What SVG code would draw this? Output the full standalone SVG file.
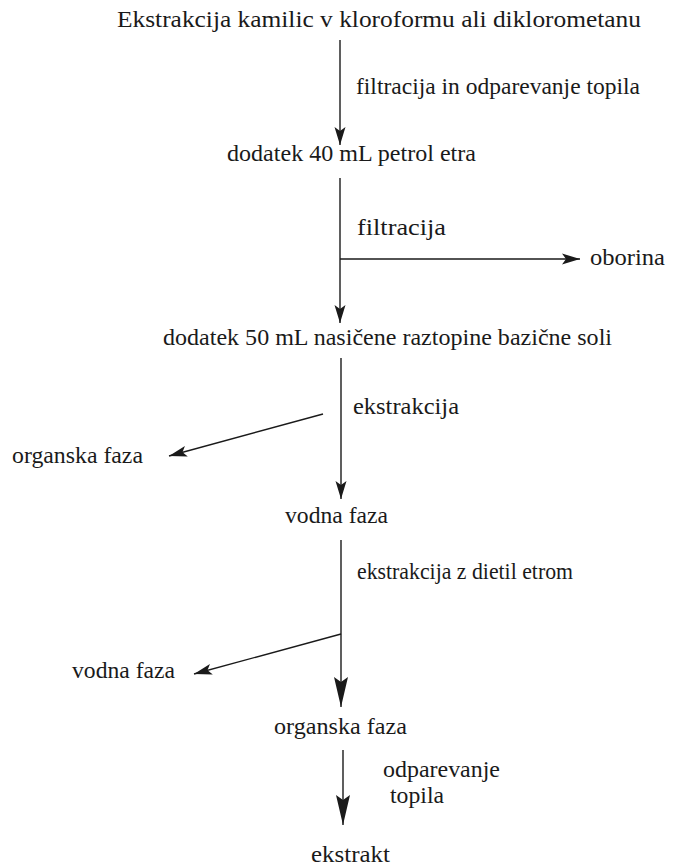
<svg xmlns="http://www.w3.org/2000/svg" width="691" height="866" viewBox="0 0 691 866">
<style>
text{font-family:"Liberation Serif","Times New Roman",Tinos,"Noto Serif","DejaVu Serif",FreeSerif,serif;font-size:23px;fill:#1a1a1a}
.c{stroke:#1a1a1a;stroke-width:1.4;fill:none}
</style>
<defs>
<marker id="as" markerUnits="userSpaceOnUse" markerWidth="20" markerHeight="14" refX="18" refY="6" orient="auto" viewBox="0 0 20 12">
<path d="M18,6 L0,0.5 L4,6 L0,11.5 Z" fill="#1a1a1a"/>
</marker>
<marker id="al" markerUnits="userSpaceOnUse" markerWidth="32" markerHeight="16" refX="30" refY="7.5" orient="auto" viewBox="0 0 32 15">
<path d="M30,7.5 L0,0.5 L5,7.5 L0,14.5 Z" fill="#1a1a1a"/>
</marker>
</defs>
<g id="connectors">
<line class="c" x1="340" y1="40" x2="340" y2="145" marker-end="url(#as)"/>
<line class="c" x1="340" y1="178" x2="340" y2="323" marker-end="url(#as)"/>
<line class="c" x1="340" y1="259" x2="580" y2="259" marker-end="url(#as)"/>
<line class="c" x1="341" y1="358" x2="341" y2="499" marker-end="url(#as)"/>
<line class="c" x1="323" y1="414" x2="169" y2="456" marker-end="url(#as)"/>
<line class="c" x1="341" y1="540" x2="341" y2="707" marker-end="url(#al)"/>
<line class="c" x1="341" y1="634" x2="194" y2="674" marker-end="url(#as)"/>
<line class="c" x1="343" y1="750" x2="343" y2="825" marker-end="url(#al)"/>
</g>
<g id="n1"><text x="117" y="27" textLength="524" lengthAdjust="spacingAndGlyphs">Ekstrakcija kamilic v kloroformu ali diklorometanu</text></g>
<g id="l1"><text x="356" y="94" textLength="284" lengthAdjust="spacingAndGlyphs">filtracija in odparevanje topila</text></g>
<g id="n2"><text x="227" y="161" textLength="249" lengthAdjust="spacingAndGlyphs">dodatek 40 mL petrol etra</text></g>
<g id="l2"><text x="357" y="235" textLength="89" lengthAdjust="spacingAndGlyphs">filtracija</text></g>
<g id="n3"><text x="590" y="265" textLength="75" lengthAdjust="spacingAndGlyphs">oborina</text></g>
<g id="n4"><text x="163" y="345" textLength="449" lengthAdjust="spacingAndGlyphs">dodatek 50 mL nasičene raztopine bazične soli</text></g>
<g id="l3"><text x="353" y="414" textLength="106" lengthAdjust="spacingAndGlyphs">ekstrakcija</text></g>
<g id="n5"><text x="12" y="463" textLength="131" lengthAdjust="spacingAndGlyphs">organska faza</text></g>
<g id="n6"><text x="285" y="523" textLength="103" lengthAdjust="spacingAndGlyphs">vodna faza</text></g>
<g id="l4"><text x="357" y="579" textLength="216" lengthAdjust="spacingAndGlyphs">ekstrakcija z dietil etrom</text></g>
<g id="n7"><text x="72" y="678" textLength="103" lengthAdjust="spacingAndGlyphs">vodna faza</text></g>
<g id="n8"><text x="274" y="734" textLength="133" lengthAdjust="spacingAndGlyphs">organska faza</text></g>
<g id="l5"><text x="383" y="777" textLength="117" lengthAdjust="spacingAndGlyphs">odparevanje</text><text x="390" y="803" textLength="54" lengthAdjust="spacingAndGlyphs">topila</text></g>
<g id="n9"><text x="311" y="862" textLength="79" lengthAdjust="spacingAndGlyphs">ekstrakt</text></g>
</svg>
